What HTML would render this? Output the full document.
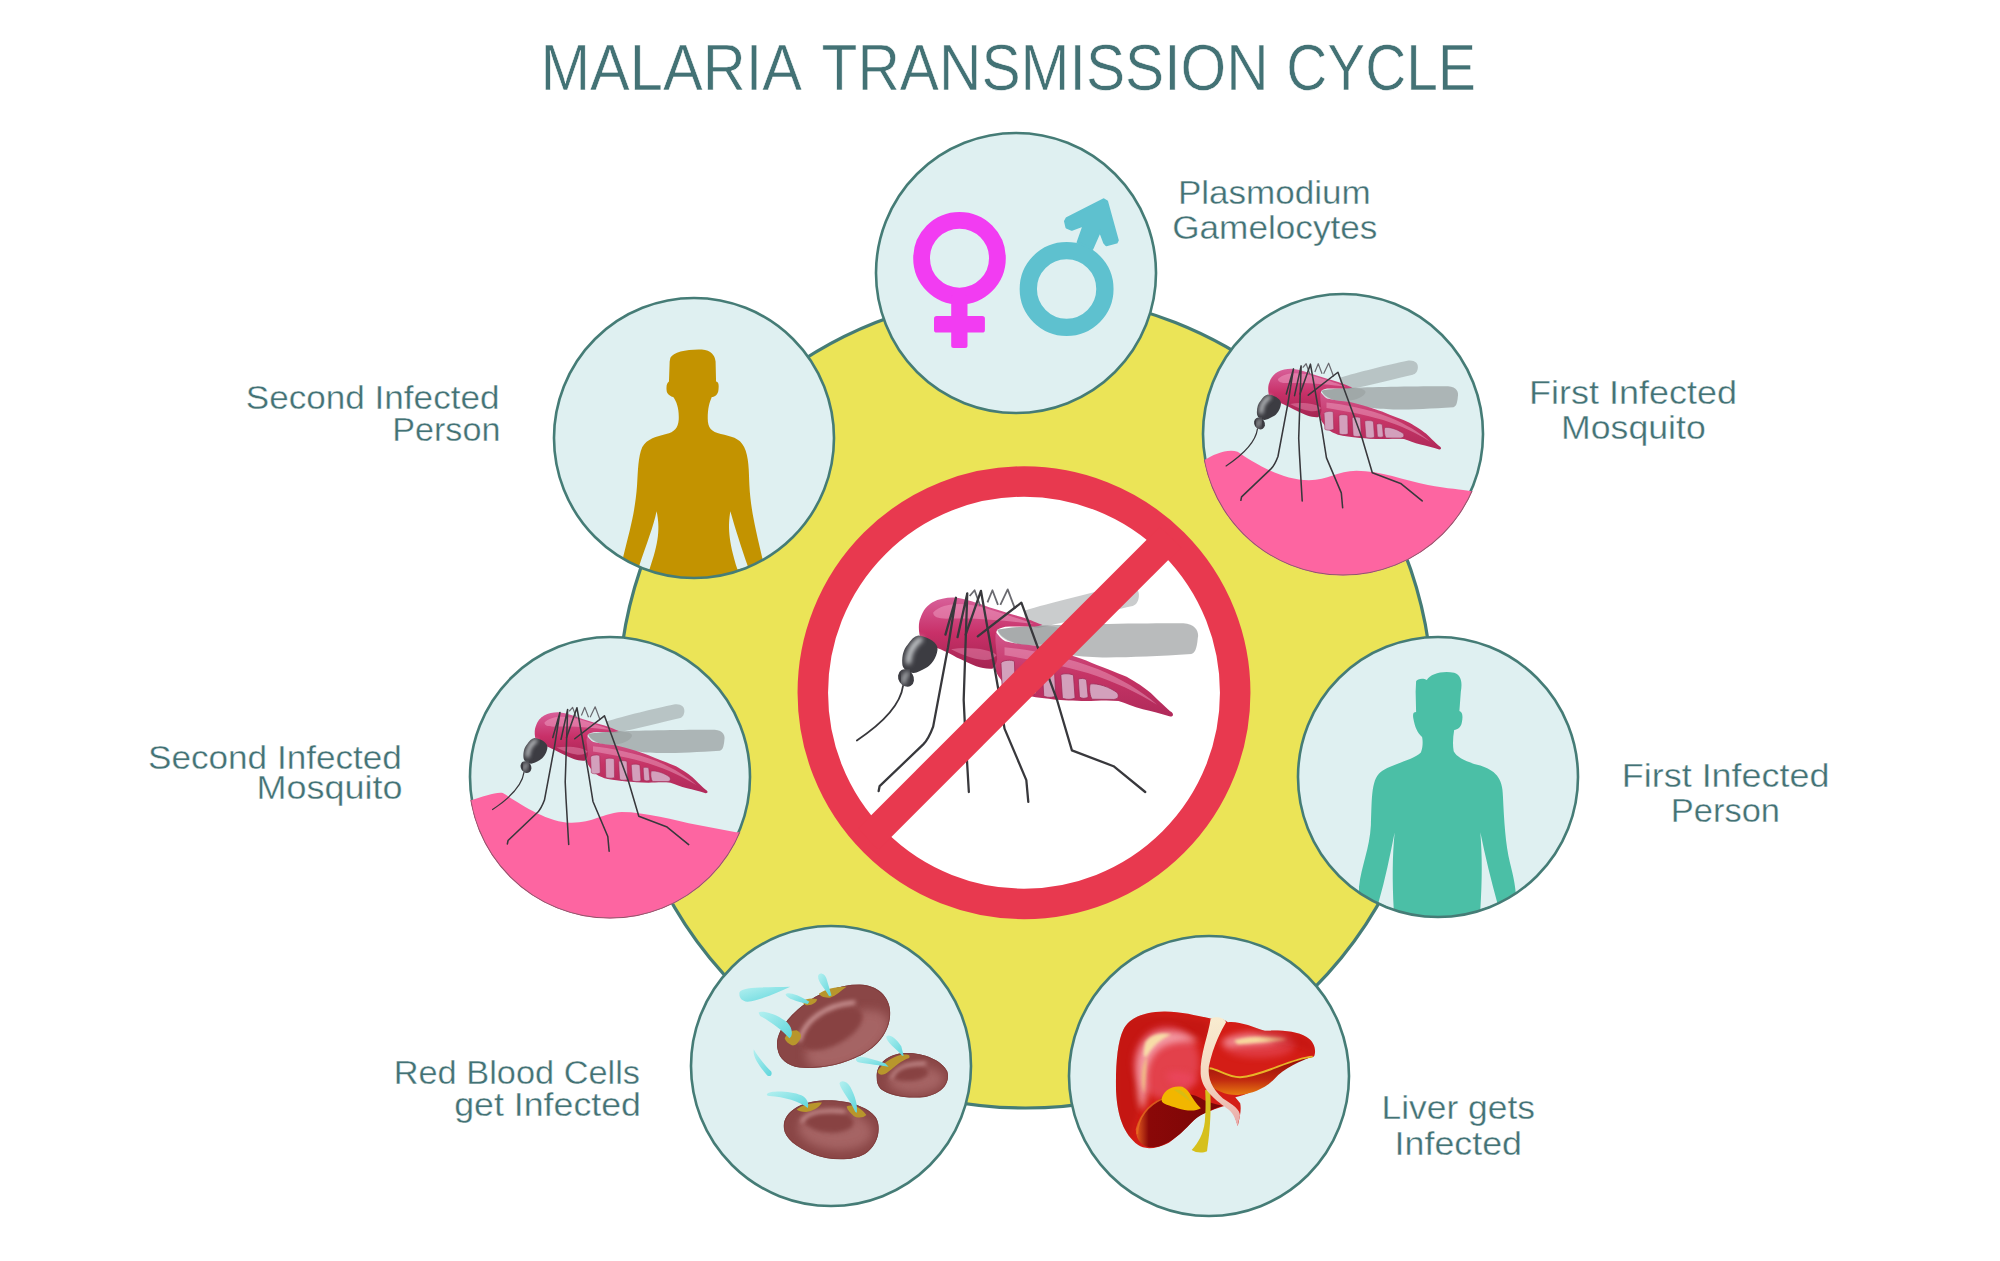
<!DOCTYPE html>
<html><head><meta charset="utf-8">
<style>
html,body{margin:0;padding:0;background:#fff;width:2000px;height:1261px;overflow:hidden}
svg{display:block}
text{font-family:"Liberation Sans",sans-serif;fill:#437275}
</style></head><body>
<svg width="2000" height="1261" viewBox="0 0 2000 1261">
<defs>
<clipPath id="cSign"><circle cx="1024" cy="692.7" r="214"/></clipPath>
<clipPath id="c1"><circle cx="1016" cy="273" r="140"/></clipPath>
<clipPath id="c1b"><circle cx="1016" cy="273" r="141.6"/></clipPath>
<clipPath id="c2"><circle cx="694" cy="438" r="140"/></clipPath>
<clipPath id="c2b"><circle cx="694" cy="438" r="141.6"/></clipPath>
<clipPath id="c3"><circle cx="1343" cy="434" r="140"/></clipPath>
<clipPath id="c3b"><circle cx="1343" cy="434" r="141.6"/></clipPath>
<clipPath id="c4"><circle cx="1438" cy="777" r="140"/></clipPath>
<clipPath id="c4b"><circle cx="1438" cy="777" r="141.6"/></clipPath>
<clipPath id="c5"><circle cx="610" cy="777" r="140"/></clipPath>
<clipPath id="c5b"><circle cx="610" cy="777" r="141.6"/></clipPath>
<clipPath id="c6"><circle cx="831" cy="1066" r="140"/></clipPath>
<clipPath id="c6b"><circle cx="831" cy="1066" r="141.6"/></clipPath>
<clipPath id="c7"><circle cx="1209" cy="1076" r="140"/></clipPath>
<clipPath id="c7b"><circle cx="1209" cy="1076" r="141.6"/></clipPath>
<linearGradient id="gTh" x1="0" y1="0" x2="0" y2="1"><stop offset="0" stop-color="#d8609a"/><stop offset="0.5" stop-color="#c83068"/><stop offset="1" stop-color="#a52452"/></linearGradient>
<linearGradient id="gAbd" x1="0" y1="0" x2="0" y2="1"><stop offset="0" stop-color="#d2588e"/><stop offset="0.5" stop-color="#c63466"/><stop offset="1" stop-color="#b02a5a"/></linearGradient>
<radialGradient id="gHead" cx="0.4" cy="0.35" r="0.7"><stop offset="0" stop-color="#9a9aa0"/><stop offset="0.35" stop-color="#4a4a50"/><stop offset="1" stop-color="#2c2c30"/></radialGradient>
<radialGradient id="gCell" cx="0.5" cy="0.5" r="0.55"><stop offset="0" stop-color="#8a4242"/><stop offset="0.7" stop-color="#a45a5a"/><stop offset="0.85" stop-color="#c07a7a"/><stop offset="1" stop-color="#8e4646"/></radialGradient>
<radialGradient id="gCellC" cx="0.5" cy="0.55" r="0.55"><stop offset="0" stop-color="#843c3c"/><stop offset="0.75" stop-color="#8a4242"/><stop offset="1" stop-color="#8a4242" stop-opacity="0"/></radialGradient>
<linearGradient id="gPara" x1="0" y1="0" x2="1" y2="1"><stop offset="0" stop-color="#b4f0f0"/><stop offset="1" stop-color="#5fd6dc"/></linearGradient>
<radialGradient id="gLiv" cx="0.22" cy="0.25" r="0.7"><stop offset="0" stop-color="#f6e6a8"/><stop offset="0.12" stop-color="#f3a0a8"/><stop offset="0.35" stop-color="#dc2a2a"/><stop offset="0.8" stop-color="#cf1a12"/><stop offset="1" stop-color="#b01010"/></radialGradient>
<radialGradient id="gLivH"><stop offset="0" stop-color="#f8e8a8" stop-opacity="0.9"/><stop offset="0.5" stop-color="#f0909a" stop-opacity="0.5"/><stop offset="1" stop-color="#d82020" stop-opacity="0"/></radialGradient>
<linearGradient id="gLivD" x1="0" y1="0" x2="0" y2="1"><stop offset="0" stop-color="#8e0a0a"/><stop offset="0.6" stop-color="#c02810"/><stop offset="1" stop-color="#e87a10"/></linearGradient>
<linearGradient id="gLivD2" x1="0" y1="0" x2="1" y2="0"><stop offset="0" stop-color="#e86020"/><stop offset="0.15" stop-color="#8a0808"/><stop offset="1" stop-color="#7a0606"/></linearGradient>
<filter id="bl1" x="-50%" y="-50%" width="200%" height="200%"><feGaussianBlur stdDeviation="14"/></filter><filter id="bl2" x="-50%" y="-50%" width="200%" height="200%"><feGaussianBlur stdDeviation="30"/></filter>
<linearGradient id="gLig" x1="0" y1="0" x2="0" y2="1"><stop offset="0" stop-color="#f8ecd0"/><stop offset="0.6" stop-color="#f4d6c0"/><stop offset="1" stop-color="#e8a8a8"/></linearGradient>
</defs>
<text x="540.5" y="89.8" font-size="64" textLength="261.4" lengthAdjust="spacingAndGlyphs" stroke="#fff" stroke-width="0.6">MALARIA</text>
<text x="821.5" y="89.8" font-size="64" textLength="447.2" lengthAdjust="spacingAndGlyphs" stroke="#fff" stroke-width="0.6">TRANSMISSION</text>
<text x="1286.3" y="89.8" font-size="64" textLength="189.6" lengthAdjust="spacingAndGlyphs" stroke="#fff" stroke-width="0.6">CYCLE</text>
<circle cx="1025.5" cy="701" r="407" fill="#ebe457" stroke="#457c76" stroke-width="3.2"/>
<circle cx="1024" cy="692.7" r="200" fill="#fff"/>
<g transform="translate(840,570) scale(0.198216)"><path d="M930,205 C1050,170 1300,105 1430,80 C1480,72 1512,95 1508,132 C1505,165 1490,178 1470,183 C1350,210 1150,262 1000,292 C950,290 925,240 930,205 Z" fill="#8a8e90" fill-opacity="0.45"/>
<path d="M793,302 C850,290 950,283 997,282 C1150,275 1500,268 1732,269 C1800,272 1812,320 1805,343 C1800,400 1790,420 1772,424 C1600,435 1450,442 1323,441 C1200,438 1050,420 997,392 C900,380 820,360 793,302 Z" fill="#8a8e90" fill-opacity="0.6"/>
<path d="M785,310 C800,330 815,350 834,359 C900,375 950,378 997,384 C1100,410 1180,435 1242,457 C1320,490 1390,515 1446,539 C1500,570 1530,590 1568,620 C1610,660 1650,700 1674,718 C1685,730 1680,740 1666,739 C1620,725 1570,712 1528,702 C1480,690 1440,672 1405,661 C1350,655 1290,660 1242,661 C1180,660 1120,656 1079,653 C1010,645 960,638 915,628 C870,612 845,595 826,571 C805,545 790,525 785,506 C778,440 778,360 785,310 Z" fill="url(#gAbd)"/>
<path d="M830,390 C950,400 1150,440 1300,500 C1420,550 1520,610 1600,680 C1500,620 1380,560 1250,520 C1100,475 950,450 830,430 Z" fill="#f0a8c8" fill-opacity="0.45"/>
<g fill="#d3a0bc" stroke="#a02a58" stroke-width="4"><path d="M812,470 C815,455 870,450 880,462 L884,585 C880,598 830,598 818,588 Z"/><path d="M922,488 C925,478 980,476 988,488 L990,620 C985,630 935,630 925,620 Z"/><path d="M1020,505 C1025,495 1075,495 1082,505 L1088,635 C1080,645 1035,645 1028,635 Z"/><path d="M1114,530 C1120,520 1170,522 1178,532 L1186,645 C1178,655 1130,655 1122,645 Z"/><path d="M1202,552 C1208,545 1238,545 1244,555 L1252,640 C1245,650 1215,650 1208,640 Z"/><path d="M1262,575 C1300,570 1360,590 1400,620 C1410,640 1400,652 1380,653 L1272,652 C1262,640 1255,600 1262,575 Z"/></g>
<path d="M401,326 C395,290 398,260 405,245 C420,200 440,180 467,163 C500,145 540,138 573,139 C640,145 700,170 752,188 C810,205 860,222 916,237 C960,252 1000,268 1022,278 C1000,284 990,286 981,286 C930,286 880,285 834,286 C815,290 800,296 793,302 C785,320 783,340 785,367 C788,400 790,425 793,449 C790,470 780,490 769,498 C740,500 715,495 687,486 C650,470 620,455 589,441 C560,425 530,410 507,400 C470,385 440,370 426,359 C410,348 403,338 401,326 Z" fill="url(#gTh)"/>
<path d="M470,215 C520,160 640,160 760,200 C850,228 930,255 975,272 C860,258 700,240 560,245 C500,248 470,240 470,215 Z" fill="#f0a0c4" fill-opacity="0.5"/>
<path d="M560,400 C650,385 760,400 790,430 C760,470 680,460 560,400 Z" fill="#f0a0c4" fill-opacity="0.4"/>
<path d="M793,302 C850,290 950,283 997,282 C1100,280 1150,300 1100,340 C1050,380 950,385 880,370 C830,360 800,330 793,302 Z" fill="#8a8e90" fill-opacity="0.35"/>
<path d="M396,330 C450,338 497,368 492,402 C487,442 462,480 433,494 C410,507 390,517 372,520 C338,517 314,497 314,470 C312,430 323,395 340,378 C358,353 374,333 396,330 Z" fill="#3c3c42"/>
<path d="M345,462 C345,420 368,375 405,350" fill="none" stroke="#e6eaec" stroke-width="26" stroke-linecap="round" opacity="0.9" filter="url(#bl1)"/>
<ellipse cx="333" cy="545" rx="38" ry="46" transform="rotate(-32 333 545)" fill="#3c3c42"/>
<path d="M322,566 C320,548 326,532 340,522" fill="none" stroke="#e6eaec" stroke-width="20" stroke-linecap="round" opacity="0.8" filter="url(#bl1)"/>
<path d="M318,585 C305,680 220,770 85,860" fill="none" stroke="#38383c" stroke-width="9" stroke-linecap="round"/>
<path d="M654,131 L679,102 L707,180 M744,163 L769,102 L797,176 M809,176 L846,98 L883,196" fill="none" stroke="#6a6a70" stroke-width="9" stroke-linejoin="round"/>
<path d="M532,326 L585,140 L545,390 L470,790 C455,830 440,860 420,880 L200,1090 L195,1115" fill="none" stroke="#38383c" stroke-width="11.5" stroke-linejoin="round" stroke-linecap="round"/>
<path d="M593,339 L642,118 L624,656 L630,780 L650,1120" fill="none" stroke="#38383c" stroke-width="11.5" stroke-linejoin="round" stroke-linecap="round"/>
<path d="M634,326 L711,105 L797,593 L830,800 L940,1060 L950,1170" fill="none" stroke="#38383c" stroke-width="11.5" stroke-linejoin="round" stroke-linecap="round"/>
<path d="M695,335 L915,165 L1095,656 L1170,910 L1380,990 L1540,1120" fill="none" stroke="#38383c" stroke-width="11.5" stroke-linejoin="round" stroke-linecap="round"/></g>
<circle cx="1024" cy="692.7" r="211.2" fill="none" stroke="#e8394f" stroke-width="30.5"/>
<polygon clip-path="url(#cSign)" points="1250,436.4 1270.95,457.35 820.95,907.35 800,886.4" fill="#e8394f"/>
<circle cx="1016" cy="273" r="140" fill="#dff0f1"/>
<g clip-path="url(#c1)"><circle cx="959.5" cy="258.2" r="37.9" fill="none" stroke="#f23cf2" stroke-width="16.8"/><rect x="951.2" y="295" width="16.3" height="53" rx="2.5" fill="#f23cf2"/><rect x="934" y="316.1" width="50.9" height="16.5" rx="2.7" fill="#f23cf2"/><circle cx="1066.6" cy="289" r="38.3" fill="none" stroke="#5ec1cf" stroke-width="17.3"/><polygon points="1065.2,221.3 1066.8,218.2 1103.6,199.5 1106.9,201.5 1117.6,240.2 1116.5,242.4 1106.3,245 1104.4,242.8 1100,231 1092.2,248.8 1077.8,242.5 1083.9,225.2 1071.8,229.6 1066.6,227.3" fill="#5ec1cf" stroke="#5ec1cf" stroke-width="2.4" stroke-linejoin="round"/></g>
<circle cx="1016" cy="273" r="140" fill="none" stroke="#457c76" stroke-width="2.6"/>
<circle cx="694" cy="438" r="140" fill="#dff0f1"/>
<g clip-path="url(#c2)"><g transform="translate(540,290) scale(0.237925)"><path fill="#c39300" d="M548,285 C560,260 620,248 680,250 C720,252 735,275 738,300 L740,385 C752,388 752,400 750,420 C748,440 735,448 722,450 C712,475 705,495 705,540 C705,580 720,595 760,605 C800,615 840,620 858,660 C878,700 878,760 880,820 C885,920 905,1000 935,1130 L935,1261 L350,1261 L350,1120 C380,1000 400,930 408,820 C412,760 412,700 430,660 C450,625 490,615 530,605 C565,597 580,580 583,545 C585,500 575,470 560,450 C545,445 532,435 532,420 C530,400 535,390 542,385 L545,300 Z"/><path fill="#dff0f1" d="M800,930 C790,990 790,1050 830,1175 L875,1165 C845,1080 820,1000 800,930 Z"/><path fill="#dff0f1" d="M490,930 C505,1000 500,1060 460,1175 L415,1165 C450,1060 475,1000 490,930 Z"/></g></g>
<circle cx="694" cy="438" r="140" fill="none" stroke="#457c76" stroke-width="2.6"/>
<circle cx="1343" cy="434" r="140" fill="#dff0f1"/>
<circle cx="1343" cy="434" r="140" fill="none" stroke="#457c76" stroke-width="2.6"/>
<g clip-path="url(#c3b)"><path fill="#fd65a1" transform="translate(1190,290) scale(0.237925)" d="M60,715 C100,690 160,665 200,680 C260,720 380,800 500,800 C580,800 620,760 700,760 C800,760 900,800 1000,820 C1080,835 1150,840 1175,845 L1300,845 L1300,1300 L0,1300 L0,715 Z"/><clipPath id="p3"><path transform="translate(1190,290) scale(0.237925)" d="M60,715 C100,690 160,665 200,680 C260,720 380,800 500,800 C580,800 620,760 700,760 C800,760 900,800 1000,820 C1080,835 1150,840 1175,845 L1300,845 L1300,1300 L0,1300 L0,715 Z"/></clipPath><circle cx="1343" cy="434" r="141.2" fill="none" stroke="#8d5a6c" stroke-width="1.2" clip-path="url(#p3)"/></g><g clip-path="url(#c3b)"><g transform="translate(1214.6,350.0) scale(0.13479)"><path d="M930,205 C1050,170 1300,105 1430,80 C1480,72 1512,95 1508,132 C1505,165 1490,178 1470,183 C1350,210 1150,262 1000,292 C950,290 925,240 930,205 Z" fill="#8a8e90" fill-opacity="0.45"/>
<path d="M793,302 C850,290 950,283 997,282 C1150,275 1500,268 1732,269 C1800,272 1812,320 1805,343 C1800,400 1790,420 1772,424 C1600,435 1450,442 1323,441 C1200,438 1050,420 997,392 C900,380 820,360 793,302 Z" fill="#8a8e90" fill-opacity="0.6"/>
<path d="M785,310 C800,330 815,350 834,359 C900,375 950,378 997,384 C1100,410 1180,435 1242,457 C1320,490 1390,515 1446,539 C1500,570 1530,590 1568,620 C1610,660 1650,700 1674,718 C1685,730 1680,740 1666,739 C1620,725 1570,712 1528,702 C1480,690 1440,672 1405,661 C1350,655 1290,660 1242,661 C1180,660 1120,656 1079,653 C1010,645 960,638 915,628 C870,612 845,595 826,571 C805,545 790,525 785,506 C778,440 778,360 785,310 Z" fill="url(#gAbd)"/>
<path d="M830,390 C950,400 1150,440 1300,500 C1420,550 1520,610 1600,680 C1500,620 1380,560 1250,520 C1100,475 950,450 830,430 Z" fill="#f0a8c8" fill-opacity="0.45"/>
<g fill="#d3a0bc" stroke="#a02a58" stroke-width="4"><path d="M812,470 C815,455 870,450 880,462 L884,585 C880,598 830,598 818,588 Z"/><path d="M922,488 C925,478 980,476 988,488 L990,620 C985,630 935,630 925,620 Z"/><path d="M1020,505 C1025,495 1075,495 1082,505 L1088,635 C1080,645 1035,645 1028,635 Z"/><path d="M1114,530 C1120,520 1170,522 1178,532 L1186,645 C1178,655 1130,655 1122,645 Z"/><path d="M1202,552 C1208,545 1238,545 1244,555 L1252,640 C1245,650 1215,650 1208,640 Z"/><path d="M1262,575 C1300,570 1360,590 1400,620 C1410,640 1400,652 1380,653 L1272,652 C1262,640 1255,600 1262,575 Z"/></g>
<path d="M401,326 C395,290 398,260 405,245 C420,200 440,180 467,163 C500,145 540,138 573,139 C640,145 700,170 752,188 C810,205 860,222 916,237 C960,252 1000,268 1022,278 C1000,284 990,286 981,286 C930,286 880,285 834,286 C815,290 800,296 793,302 C785,320 783,340 785,367 C788,400 790,425 793,449 C790,470 780,490 769,498 C740,500 715,495 687,486 C650,470 620,455 589,441 C560,425 530,410 507,400 C470,385 440,370 426,359 C410,348 403,338 401,326 Z" fill="url(#gTh)"/>
<path d="M470,215 C520,160 640,160 760,200 C850,228 930,255 975,272 C860,258 700,240 560,245 C500,248 470,240 470,215 Z" fill="#f0a0c4" fill-opacity="0.5"/>
<path d="M560,400 C650,385 760,400 790,430 C760,470 680,460 560,400 Z" fill="#f0a0c4" fill-opacity="0.4"/>
<path d="M793,302 C850,290 950,283 997,282 C1100,280 1150,300 1100,340 C1050,380 950,385 880,370 C830,360 800,330 793,302 Z" fill="#8a8e90" fill-opacity="0.35"/>
<path d="M396,330 C450,338 497,368 492,402 C487,442 462,480 433,494 C410,507 390,517 372,520 C338,517 314,497 314,470 C312,430 323,395 340,378 C358,353 374,333 396,330 Z" fill="#3c3c42"/>
<path d="M345,462 C345,420 368,375 405,350" fill="none" stroke="#e6eaec" stroke-width="26" stroke-linecap="round" opacity="0.9" filter="url(#bl1)"/>
<ellipse cx="333" cy="545" rx="38" ry="46" transform="rotate(-32 333 545)" fill="#3c3c42"/>
<path d="M322,566 C320,548 326,532 340,522" fill="none" stroke="#e6eaec" stroke-width="20" stroke-linecap="round" opacity="0.8" filter="url(#bl1)"/>
<path d="M318,585 C305,680 220,770 85,860" fill="none" stroke="#38383c" stroke-width="9" stroke-linecap="round"/>
<path d="M654,131 L679,102 L707,180 M744,163 L769,102 L797,176 M809,176 L846,98 L883,196" fill="none" stroke="#6a6a70" stroke-width="9" stroke-linejoin="round"/>
<path d="M532,326 L585,140 L545,390 L470,790 C455,830 440,860 420,880 L200,1090 L195,1115" fill="none" stroke="#38383c" stroke-width="11.5" stroke-linejoin="round" stroke-linecap="round"/>
<path d="M593,339 L642,118 L624,656 L630,780 L650,1120" fill="none" stroke="#38383c" stroke-width="11.5" stroke-linejoin="round" stroke-linecap="round"/>
<path d="M634,326 L711,105 L797,593 L830,800 L940,1060 L950,1170" fill="none" stroke="#38383c" stroke-width="11.5" stroke-linejoin="round" stroke-linecap="round"/>
<path d="M695,335 L915,165 L1095,656 L1170,910 L1380,990 L1540,1120" fill="none" stroke="#38383c" stroke-width="11.5" stroke-linejoin="round" stroke-linecap="round"/></g></g>
<circle cx="1438" cy="777" r="140" fill="#dff0f1"/>
<g clip-path="url(#c4)"><g transform="translate(1290,630) scale(0.237925)"><path fill="#4bbfa6" d="M530,215 C535,205 560,200 575,210 C590,185 640,170 690,180 C720,190 725,220 718,260 L712,340 C725,345 728,360 722,390 C718,410 705,418 690,420 C685,450 683,480 688,510 C700,535 740,555 800,570 C860,590 895,620 895,700 C900,800 905,900 925,980 C945,1060 955,1100 955,1261 L290,1261 L290,1080 C300,990 335,920 340,820 C345,700 340,620 390,590 C440,560 520,545 550,515 C560,490 558,460 555,450 C535,430 525,410 518,370 C515,350 520,345 530,345 L528,260 Z"/><path fill="#dff0f1" d="M800,850 C808,950 808,1050 800,1175 L872,1150 C845,1050 820,950 800,850 Z"/><path fill="#dff0f1" d="M440,850 C430,950 430,1050 436,1175 L372,1145 C400,1050 420,950 440,850 Z"/></g></g>
<circle cx="1438" cy="777" r="140" fill="none" stroke="#457c76" stroke-width="2.6"/>
<circle cx="610" cy="777" r="140" fill="#dff0f1"/>
<circle cx="610" cy="777" r="140" fill="none" stroke="#457c76" stroke-width="2.6"/>
<g clip-path="url(#c5b)"><path fill="#fd65a1" transform="translate(460,630) scale(0.237925)" d="M50,715 C100,700 150,680 180,685 C240,720 360,810 470,810 C560,810 600,770 680,765 C780,765 900,800 1000,820 L1160,850 L1300,850 L1300,1300 L0,1300 L0,715 Z"/><clipPath id="p5"><path transform="translate(460,630) scale(0.237925)" d="M50,715 C100,700 150,680 180,685 C240,720 360,810 470,810 C560,810 600,770 680,765 C780,765 900,800 1000,820 L1160,850 L1300,850 L1300,1300 L0,1300 L0,715 Z"/></clipPath><circle cx="610" cy="777" r="141.2" fill="none" stroke="#8d5a6c" stroke-width="1.2" clip-path="url(#p5)"/></g><g clip-path="url(#c5b)"><g transform="translate(481.1,693.6) scale(0.13479)"><path d="M930,205 C1050,170 1300,105 1430,80 C1480,72 1512,95 1508,132 C1505,165 1490,178 1470,183 C1350,210 1150,262 1000,292 C950,290 925,240 930,205 Z" fill="#8a8e90" fill-opacity="0.45"/>
<path d="M793,302 C850,290 950,283 997,282 C1150,275 1500,268 1732,269 C1800,272 1812,320 1805,343 C1800,400 1790,420 1772,424 C1600,435 1450,442 1323,441 C1200,438 1050,420 997,392 C900,380 820,360 793,302 Z" fill="#8a8e90" fill-opacity="0.6"/>
<path d="M785,310 C800,330 815,350 834,359 C900,375 950,378 997,384 C1100,410 1180,435 1242,457 C1320,490 1390,515 1446,539 C1500,570 1530,590 1568,620 C1610,660 1650,700 1674,718 C1685,730 1680,740 1666,739 C1620,725 1570,712 1528,702 C1480,690 1440,672 1405,661 C1350,655 1290,660 1242,661 C1180,660 1120,656 1079,653 C1010,645 960,638 915,628 C870,612 845,595 826,571 C805,545 790,525 785,506 C778,440 778,360 785,310 Z" fill="url(#gAbd)"/>
<path d="M830,390 C950,400 1150,440 1300,500 C1420,550 1520,610 1600,680 C1500,620 1380,560 1250,520 C1100,475 950,450 830,430 Z" fill="#f0a8c8" fill-opacity="0.45"/>
<g fill="#d3a0bc" stroke="#a02a58" stroke-width="4"><path d="M812,470 C815,455 870,450 880,462 L884,585 C880,598 830,598 818,588 Z"/><path d="M922,488 C925,478 980,476 988,488 L990,620 C985,630 935,630 925,620 Z"/><path d="M1020,505 C1025,495 1075,495 1082,505 L1088,635 C1080,645 1035,645 1028,635 Z"/><path d="M1114,530 C1120,520 1170,522 1178,532 L1186,645 C1178,655 1130,655 1122,645 Z"/><path d="M1202,552 C1208,545 1238,545 1244,555 L1252,640 C1245,650 1215,650 1208,640 Z"/><path d="M1262,575 C1300,570 1360,590 1400,620 C1410,640 1400,652 1380,653 L1272,652 C1262,640 1255,600 1262,575 Z"/></g>
<path d="M401,326 C395,290 398,260 405,245 C420,200 440,180 467,163 C500,145 540,138 573,139 C640,145 700,170 752,188 C810,205 860,222 916,237 C960,252 1000,268 1022,278 C1000,284 990,286 981,286 C930,286 880,285 834,286 C815,290 800,296 793,302 C785,320 783,340 785,367 C788,400 790,425 793,449 C790,470 780,490 769,498 C740,500 715,495 687,486 C650,470 620,455 589,441 C560,425 530,410 507,400 C470,385 440,370 426,359 C410,348 403,338 401,326 Z" fill="url(#gTh)"/>
<path d="M470,215 C520,160 640,160 760,200 C850,228 930,255 975,272 C860,258 700,240 560,245 C500,248 470,240 470,215 Z" fill="#f0a0c4" fill-opacity="0.5"/>
<path d="M560,400 C650,385 760,400 790,430 C760,470 680,460 560,400 Z" fill="#f0a0c4" fill-opacity="0.4"/>
<path d="M793,302 C850,290 950,283 997,282 C1100,280 1150,300 1100,340 C1050,380 950,385 880,370 C830,360 800,330 793,302 Z" fill="#8a8e90" fill-opacity="0.35"/>
<path d="M396,330 C450,338 497,368 492,402 C487,442 462,480 433,494 C410,507 390,517 372,520 C338,517 314,497 314,470 C312,430 323,395 340,378 C358,353 374,333 396,330 Z" fill="#3c3c42"/>
<path d="M345,462 C345,420 368,375 405,350" fill="none" stroke="#e6eaec" stroke-width="26" stroke-linecap="round" opacity="0.9" filter="url(#bl1)"/>
<ellipse cx="333" cy="545" rx="38" ry="46" transform="rotate(-32 333 545)" fill="#3c3c42"/>
<path d="M322,566 C320,548 326,532 340,522" fill="none" stroke="#e6eaec" stroke-width="20" stroke-linecap="round" opacity="0.8" filter="url(#bl1)"/>
<path d="M318,585 C305,680 220,770 85,860" fill="none" stroke="#38383c" stroke-width="9" stroke-linecap="round"/>
<path d="M654,131 L679,102 L707,180 M744,163 L769,102 L797,176 M809,176 L846,98 L883,196" fill="none" stroke="#6a6a70" stroke-width="9" stroke-linejoin="round"/>
<path d="M532,326 L585,140 L545,390 L470,790 C455,830 440,860 420,880 L200,1090 L195,1115" fill="none" stroke="#38383c" stroke-width="11.5" stroke-linejoin="round" stroke-linecap="round"/>
<path d="M593,339 L642,118 L624,656 L630,780 L650,1120" fill="none" stroke="#38383c" stroke-width="11.5" stroke-linejoin="round" stroke-linecap="round"/>
<path d="M634,326 L711,105 L797,593 L830,800 L940,1060 L950,1170" fill="none" stroke="#38383c" stroke-width="11.5" stroke-linejoin="round" stroke-linecap="round"/>
<path d="M695,335 L915,165 L1095,656 L1170,910 L1380,990 L1540,1120" fill="none" stroke="#38383c" stroke-width="11.5" stroke-linejoin="round" stroke-linecap="round"/></g></g>
<circle cx="831" cy="1066" r="140" fill="#dff0f1"/>
<g clip-path="url(#c6)"><g transform="translate(730,970) scale(0.158605)"><clipPath id="rb1"><path d="M300,500 C280,420 340,320 450,230 C560,140 700,90 820,92 C930,95 1010,170 1010,270 C1010,380 940,480 820,540 C700,600 560,625 440,615 C360,605 310,560 300,500 Z"/></clipPath><path fill="#8a4646" d="M300,500 C280,420 340,320 450,230 C560,140 700,90 820,92 C930,95 1010,170 1010,270 C1010,380 940,480 820,540 C700,600 560,625 440,615 C360,605 310,560 300,500 Z"/><g clip-path="url(#rb1)"><ellipse cx="740" cy="440" rx="290" ry="150" transform="rotate(-28 740 440)" fill="#b87878" opacity="0.6" filter="url(#bl2)"/><ellipse cx="640" cy="370" rx="215" ry="105" transform="rotate(-28 640 370)" fill="#884343" filter="url(#bl1)"/><path d="M440,440 C470,320 600,220 780,205" fill="none" stroke="#cf9a9a" stroke-width="26" stroke-linecap="round" filter="url(#bl1)"/><path d="M300,500 C280,420 340,320 450,230 C560,140 700,90 820,92 C930,95 1010,170 1010,270 C1010,380 940,480 820,540 C700,600 560,625 440,615 C360,605 310,560 300,500 Z" fill="none" stroke="#7e3c3c" stroke-width="10"/></g><clipPath id="rb2"><path d="M925,680 C920,600 980,540 1080,525 C1200,515 1330,560 1370,640 C1390,710 1340,780 1230,800 C1120,815 1000,790 950,750 C930,730 925,705 925,680 Z"/></clipPath><path fill="#8a4646" d="M925,680 C920,600 980,540 1080,525 C1200,515 1330,560 1370,640 C1390,710 1340,780 1230,800 C1120,815 1000,790 950,750 C930,730 925,705 925,680 Z"/><g clip-path="url(#rb2)"><ellipse cx="1175" cy="695" rx="175" ry="85" transform="rotate(-3 1175 695)" fill="#b87878" opacity="0.6" filter="url(#bl2)"/><ellipse cx="1130" cy="650" rx="120" ry="52" transform="rotate(-3 1130 650)" fill="#884343" filter="url(#bl1)"/><path d="M1020,680 C1040,620 1100,592 1230,588" fill="none" stroke="#cf9a9a" stroke-width="18" stroke-linecap="round" filter="url(#bl1)"/><path d="M925,680 C920,600 980,540 1080,525 C1200,515 1330,560 1370,640 C1390,710 1340,780 1230,800 C1120,815 1000,790 950,750 C930,730 925,705 925,680 Z" fill="none" stroke="#7e3c3c" stroke-width="10"/></g><clipPath id="rb3"><path d="M340,1000 C330,910 420,840 560,825 C700,810 860,850 920,930 C960,1000 930,1110 850,1160 C760,1210 620,1200 520,1160 C420,1120 345,1060 340,1000 Z"/></clipPath><path fill="#8a4646" d="M340,1000 C330,910 420,840 560,825 C700,810 860,850 920,930 C960,1000 930,1110 850,1160 C760,1210 620,1200 520,1160 C420,1120 345,1060 340,1000 Z"/><g clip-path="url(#rb3)"><ellipse cx="665" cy="1010" rx="235" ry="125" transform="rotate(5 665 1010)" fill="#b87878" opacity="0.6" filter="url(#bl2)"/><ellipse cx="620" cy="950" rx="160" ry="75" transform="rotate(5 620 950)" fill="#884343" filter="url(#bl1)"/><path d="M455,955 C480,900 560,880 720,892" fill="none" stroke="#cf9a9a" stroke-width="20" stroke-linecap="round" filter="url(#bl1)"/><path d="M340,1000 C330,910 420,840 560,825 C700,810 860,850 920,930 C960,1000 930,1110 850,1160 C760,1210 620,1200 520,1160 C420,1120 345,1060 340,1000 Z" fill="none" stroke="#7e3c3c" stroke-width="10"/></g><g fill="#b8962c"><path d="M560,150 C600,120 660,105 735,105 C700,130 670,160 630,175 C600,175 575,170 560,150 Z"/><path d="M455,195 C480,180 520,175 550,185 C545,205 520,225 480,222 C465,215 455,205 455,195 Z"/><path d="M345,430 C360,400 380,380 420,380 C450,395 455,420 440,440 C430,460 410,480 390,475 C370,465 350,450 345,430 Z"/><path d="M930,640 C960,590 1020,550 1080,535 C1120,530 1140,535 1130,555 C1080,570 1040,610 1000,640 C970,665 940,670 930,640 Z"/><path d="M420,880 C450,850 520,835 580,835 C560,870 520,890 480,895 C450,895 430,890 420,880 Z"/><path d="M735,860 C770,845 820,860 860,915 C840,935 800,935 780,920 C760,900 740,885 735,860 Z"/></g><g fill="url(#gPara)"><path d="M60,140 C80,100 250,110 380,105 C300,140 200,190 110,200 C70,195 55,170 60,140 Z"/><path d="M350,155 C360,135 420,150 500,200 L490,215 C420,200 360,180 350,155 Z"/><path d="M180,270 C200,250 300,280 360,330 C400,370 395,420 375,430 C330,380 250,320 190,290 Z"/><path d="M555,40 C560,10 600,20 610,60 L640,160 L625,165 C600,120 555,80 555,40 Z"/><path d="M150,500 C170,540 220,600 260,640 C270,665 250,675 235,665 C180,600 140,540 150,500 Z"/><path d="M985,420 C1000,400 1040,420 1080,480 L1095,540 L1085,540 C1050,500 980,450 985,420 Z"/><path d="M800,550 C820,540 900,560 980,590 L1000,610 C920,595 830,590 805,580 C790,570 792,558 800,550 Z"/><path d="M235,780 C250,760 380,760 450,790 C490,810 500,850 490,870 C440,830 340,800 250,795 C232,792 228,785 235,780 Z"/><path d="M690,715 C700,690 740,700 760,740 C790,800 805,850 800,900 L790,895 C760,820 700,760 690,715 Z"/></g></g></g>
<circle cx="831" cy="1066" r="140" fill="none" stroke="#457c76" stroke-width="2.6"/>
<circle cx="1209" cy="1076" r="140" fill="#dff0f1"/>
<g clip-path="url(#c7)"><g transform="translate(1105,1005) scale(0.122911)"><clipPath id="livc"><path d="M150,200 C200,100 320,55 480,52 C620,50 760,90 860,110 C900,100 960,110 1000,140 C1100,130 1200,180 1300,210 C1420,205 1560,210 1640,260 C1710,300 1720,380 1700,420 C1640,440 1560,450 1460,500 C1380,560 1300,640 1200,700 C1150,730 1100,740 1060,750 L1100,800 C1110,850 1100,900 1080,985 L1060,920 C1050,870 1020,840 980,820 C900,840 820,880 760,900 C700,960 620,1050 520,1120 C430,1170 320,1180 270,1140 C150,1050 100,900 90,700 C85,500 100,300 150,200 Z"/></clipPath><path fill="#d41d16" d="M150,200 C200,100 320,55 480,52 C620,50 760,90 860,110 C900,100 960,110 1000,140 C1100,130 1200,180 1300,210 C1420,205 1560,210 1640,260 C1710,300 1720,380 1700,420 C1640,440 1560,450 1460,500 C1380,560 1300,640 1200,700 C1150,730 1100,740 1060,750 L1100,800 C1110,850 1100,900 1080,985 L1060,920 C1050,870 1020,840 980,820 C900,840 820,880 760,900 C700,960 620,1050 520,1120 C430,1170 320,1180 270,1140 C150,1050 100,900 90,700 C85,500 100,300 150,200 Z"/><g clip-path="url(#livc)"><path d="M60,300 C60,150 200,60 400,70 C600,80 760,110 850,130 L850,300 C700,260 500,250 380,320 C300,380 280,500 290,700 C295,850 250,1000 200,1100 L60,1100 Z" fill="#a80e0e" opacity="0.35" filter="url(#bl2)"/><ellipse cx="500" cy="470" rx="270" ry="300" fill="#ee6078" opacity="0.55" filter="url(#bl2)"/><ellipse cx="1250" cy="320" rx="300" ry="110" fill="#ee6078" opacity="0.45" filter="url(#bl2)"/><path d="M260,560 C250,380 320,240 470,220 C600,205 720,250 760,300 C650,290 520,300 440,360 C360,430 330,520 340,650 C345,720 330,800 300,860 C270,780 262,680 260,560 Z" fill="#f6a4ae" opacity="0.9" filter="url(#bl2)"/><path d="M330,300 C380,230 470,220 540,240 C470,270 400,320 350,400 C320,450 300,420 330,300 Z" fill="#f8e6a8" opacity="0.9" filter="url(#bl1)"/><path d="M300,600 C300,500 320,450 340,420 C340,520 330,620 320,720 C310,700 300,650 300,600 Z" fill="#f0d080" opacity="0.7" filter="url(#bl1)"/><path d="M500,560 C600,520 700,560 760,620 C700,660 600,660 520,620 Z" fill="#ee4a66" opacity="0.6" filter="url(#bl2)"/><path d="M950,300 C1050,230 1250,230 1500,270 C1400,320 1200,330 1000,340 Z" fill="#f6a0a8" opacity="0.8" filter="url(#bl2)"/><path d="M1050,290 C1150,250 1350,250 1480,280 C1350,300 1200,310 1080,320 Z" fill="#f8e4a0" opacity="0.9" filter="url(#bl1)"/><path d="M1200,200 C1400,190 1600,210 1700,300 L1720,420 C1650,360 1500,330 1400,320 Z" fill="#b01010" opacity="0.35" filter="url(#bl2)"/></g><path fill="url(#gLivD)" d="M840,510 C900,500 1000,580 1100,585 C1300,570 1500,430 1690,420 C1600,450 1450,520 1380,600 C1300,680 1200,720 1100,730 C1000,740 900,700 840,640 Z"/><path fill="none" stroke="#e8b428" stroke-width="16" d="M850,515 C920,520 1000,590 1100,588 C1300,575 1500,435 1690,420"/><path fill="url(#gLivD2)" d="M250,1010 C280,880 380,790 500,740 C600,700 720,720 800,770 C860,800 930,810 960,820 C840,860 760,900 700,960 C620,1050 540,1110 470,1140 C380,1180 255,1160 250,1010 Z"/><path fill="none" stroke="#e86a20" stroke-width="14" opacity="0.8" d="M262,1050 C270,900 360,810 470,760"/><path fill="#f2b600" d="M460,770 C470,700 540,650 630,665 C690,690 700,760 780,840 C730,870 660,860 590,840 C530,815 460,810 460,770 Z"/><path fill="#c8c020" opacity="0.6" d="M560,690 C620,680 660,720 700,790 C660,760 620,730 560,690 Z"/><path fill="#d6c01c" d="M815,690 L855,700 C865,800 860,1000 830,1190 C800,1205 740,1205 705,1180 C760,1120 800,1050 812,950 C822,850 818,750 815,690 Z"/><path fill="url(#gLig)" d="M860,110 C900,90 970,100 985,140 C950,200 880,330 845,500 C835,600 870,680 960,760 C1040,810 1100,850 1098,900 L1078,985 C1060,920 1040,870 990,840 C880,760 785,680 778,560 C772,400 840,250 860,110 Z"/></g></g>
<circle cx="1209" cy="1076" r="140" fill="none" stroke="#457c76" stroke-width="2.6"/>
<text x="1177.9" y="204.1" font-size="32.5" textLength="192.9" lengthAdjust="spacingAndGlyphs" stroke="#fff" stroke-width="0.35">Plasmodium</text>
<text x="1172.2" y="239.2" font-size="32.5" textLength="205.2" lengthAdjust="spacingAndGlyphs" stroke="#fff" stroke-width="0.35">Gamelocytes</text>
<text x="245.8" y="408.7" font-size="32.5" textLength="253.7" lengthAdjust="spacingAndGlyphs" stroke="#fff" stroke-width="0.35">Second Infected</text>
<text x="392.2" y="440.6" font-size="32.5" textLength="108.2" lengthAdjust="spacingAndGlyphs" stroke="#fff" stroke-width="0.35">Person</text>
<text x="1529.1" y="404.0" font-size="32.5" textLength="207.9" lengthAdjust="spacingAndGlyphs" stroke="#fff" stroke-width="0.35">First Infected</text>
<text x="1561.0" y="439.0" font-size="32.5" textLength="144.8" lengthAdjust="spacingAndGlyphs" stroke="#fff" stroke-width="0.35">Mosquito</text>
<text x="148.0" y="769.3" font-size="32.5" textLength="253.9" lengthAdjust="spacingAndGlyphs" stroke="#fff" stroke-width="0.35">Second Infected</text>
<text x="256.6" y="799.1" font-size="32.5" textLength="146.0" lengthAdjust="spacingAndGlyphs" stroke="#fff" stroke-width="0.35">Mosquito</text>
<text x="1621.8" y="786.5" font-size="32.5" textLength="207.7" lengthAdjust="spacingAndGlyphs" stroke="#fff" stroke-width="0.35">First Infected</text>
<text x="1670.75" y="822.3" font-size="32.5" textLength="109.25" lengthAdjust="spacingAndGlyphs" stroke="#fff" stroke-width="0.35">Person</text>
<text x="393.7" y="1084.3" font-size="32.5" textLength="246.3" lengthAdjust="spacingAndGlyphs" stroke="#fff" stroke-width="0.35">Red Blood Cells</text>
<text x="454.2" y="1115.7" font-size="32.5" textLength="186.8" lengthAdjust="spacingAndGlyphs" stroke="#fff" stroke-width="0.35">get Infected</text>
<text x="1381.5" y="1119.0" font-size="32.5" textLength="153.5" lengthAdjust="spacingAndGlyphs" stroke="#fff" stroke-width="0.35">Liver gets</text>
<text x="1394.6" y="1154.5" font-size="32.5" textLength="127.4" lengthAdjust="spacingAndGlyphs" stroke="#fff" stroke-width="0.35">Infected</text>
</svg>
</body></html>
